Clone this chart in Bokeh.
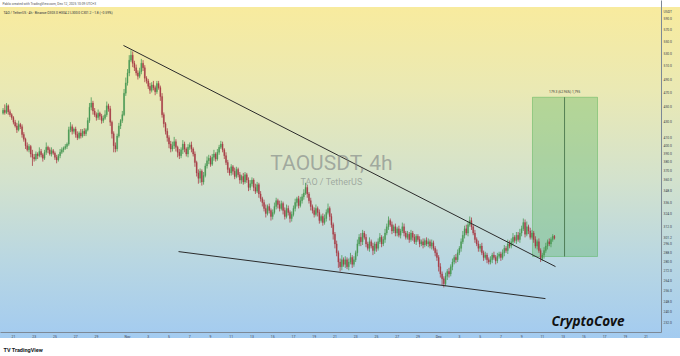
import math
from bokeh.plotting import figure
from bokeh.models import (Range1d, FixedTicker, Label, PrintfTickFormatter,
                          ColumnDataSource, Title)
from bokeh.embed import file_html
from bokeh.resources import INLINE

# ---------------- data (TAO/USDT, 4h candles, Oct 20 -> Dec 12) ----------------
first_open = 442.0
closes = [
    446, 443, 452, 444, 440, 436,   # Oct 20
    430, 425, 420, 427, 424, 414,   # Oct 21
    408, 400, 395, 399, 390, 386,   # Oct 22
    384, 390, 388, 393, 389, 385,   # Oct 23
    392, 398, 395, 390, 394, 391,   # Oct 24
    386, 383, 388, 392, 395, 397,   # Oct 25
    399, 402, 420, 424, 418, 421,   # Oct 26
    414, 410, 416, 412, 418, 415,   # Oct 27
    420, 432, 450, 456, 445, 440,   # Oct 28
    436, 442, 438, 432, 435, 440,   # Oct 29
    452, 448, 430, 415, 400, 396,   # Oct 30
    412, 425, 432, 440, 470, 485,   # Oct 31
    500, 520, 528, 515, 508, 500,   # Nov 1
    495, 502, 515, 508, 492, 488,   # Nov 2
    480, 474, 482, 478, 472, 484,   # Nov 3
    478, 465, 440, 428, 418, 410,   # Nov 4
    402, 396, 400, 405, 398, 392,   # Nov 5
    388, 395, 402, 396, 390, 398,   # Nov 6
    401, 396, 390, 380, 368, 362,   # Nov 7
    370, 358, 365, 376, 382, 385,   # Nov 8
    378, 386, 390, 384, 392, 398,   # Nov 9
    402, 395, 388, 380, 372, 368,   # Nov 10
    375, 370, 364, 372, 366, 360,   # Nov 11
    364, 358, 366, 360, 352, 356,   # Nov 12
    360, 352, 348, 355, 345, 340,   # Nov 13
    336, 330, 325, 332, 328, 322,   # Nov 14
    326, 332, 338, 334, 330, 335,   # Nov 15
    328, 322, 330, 326, 320, 324,   # Nov 16
    330, 336, 340, 333, 338, 342,   # Nov 17
    346, 352, 345, 338, 332, 328,   # Nov 18
    324, 330, 326, 318, 322, 316,   # Nov 19
    320, 326, 330, 322, 314, 305,   # Nov 20
    296, 288, 280, 276, 282, 278,   # Nov 21
    282, 276, 280, 284, 278, 282,   # Nov 22
    288, 296, 302, 298, 306, 302,   # Nov 23
    296, 292, 298, 294, 290, 296,   # Nov 24
    292, 298, 302, 296, 300, 306,   # Nov 25
    312, 318, 314, 308, 312, 306,   # Nov 26
    310, 304, 308, 312, 306, 302,   # Nov 27
    305, 300, 306, 302, 298, 303,   # Nov 28
    300, 296, 298, 295, 299, 296,   # Nov 29
    298, 294, 297, 292, 288, 284,   # Nov 30
    276, 270, 266, 262, 268, 272,   # Dec 1
    270, 276, 280, 284, 282, 288,   # Dec 2
    292, 298, 304, 310, 306, 314,   # Dec 3
    318, 312, 306, 300, 296, 292,   # Dec 4
    294, 288, 284, 286, 282, 280,   # Dec 5
    282, 286, 284, 281, 285, 287,   # Dec 6
    284, 288, 292, 290, 296, 294,   # Dec 7
    298, 302, 299, 304, 300, 306,   # Dec 8
    310, 316, 305, 312, 308, 302,   # Dec 9
    306, 300, 294, 298, 290, 283,   # Dec 10
    286, 290, 294, 298, 296, 300,   # Dec 11
    303.0, 301.2,                   # Dec 12
]
wick_up = [
    3, 8, 4, 2, 3, 2,  2, 3, 4, 5, 2, 3,  3, 2, 4, 3, 2, 5,  4, 3, 2, 5, 3, 2,
    3, 6, 2, 3, 4, 2,  2, 3, 2, 4, 3, 2,  3, 2, 4, 6, 3, 2,  3, 4, 2, 5, 3, 4,
    2, 4, 6, 8, 3, 4,  3, 5, 2, 3, 4, 6,  6, 3, 4, 2, 3, 4,  3, 4, 2, 5, 6, 8,
    6, 8, 8, 6, 4, 5,  4, 6, 7, 5, 4, 3,  3, 5, 4, 6, 3, 4,  4, 3, 5, 3, 2, 4,
    3, 4, 5, 6, 3, 2,  4, 3, 5, 3, 2, 4,  3, 4, 2, 3, 2, 4,  3, 2, 4, 3, 5, 4,
    3, 4, 5, 2, 4, 3,  4, 3, 2, 4, 3, 2,  3, 2, 4, 3, 2, 3,  2, 4, 3, 2, 3, 4,
    3, 2, 4, 3, 2, 3,  2, 3, 4, 2, 3, 2,  3, 4, 3, 2, 4, 3,  2, 3, 4, 3, 2, 3,
    3, 4, 2, 3, 4, 3,  4, 5, 3, 2, 3, 2,  3, 4, 2, 3, 2, 3,  4, 3, 5, 2, 3, 2,
    2, 3, 2, 3, 4, 2,  3, 2, 3, 4, 2, 3,  2, 4, 3, 4, 3, 2,  3, 2, 4, 2, 3, 2,
    2, 3, 4, 2, 3, 4,  3, 4, 2, 3, 2, 3,  2, 3, 2, 4, 3, 2,  3, 2, 3, 2, 3, 2,
    2, 3, 2, 3, 2, 3,  3, 2, 3, 2, 2, 3,  2, 3, 2, 2, 3, 2,  3, 2, 3, 2, 3, 3,
    2, 3, 4, 3, 4, 3,  4, 3, 2, 3, 2, 3,  2, 3, 2, 3, 2, 2,  3, 2, 3, 2, 3, 2,
    2, 3, 3, 2, 4, 3,  3, 4, 2, 3, 3, 4,  3, 4, 3, 5, 2, 3,  3, 2, 3, 2, 3, 2,
    2, 3, 3, 2, 3, 2,  2, 1.2,
]
wick_dn = [
    2, 3, 2, 4, 3, 3,  3, 2, 4, 2, 3, 4,  3, 4, 2, 3, 4, 10, 3, 2, 4, 2, 3, 4,
    2, 3, 4, 2, 3, 2,  3, 4, 2, 3, 2, 3,  2, 3, 2, 3, 4, 3,  4, 3, 2, 3, 2, 3,
    3, 2, 3, 4, 5, 3,  4, 3, 5, 4, 3, 2,  3, 4, 5, 6, 8, 4,  3, 2, 4, 3, 2, 4,
    4, 5, 3, 6, 5, 4,  5, 3, 4, 5, 6, 4,  4, 5, 3, 4, 5, 3,  3, 6, 4, 5, 4, 5,
    5, 4, 3, 4, 5, 6,  4, 3, 5, 4, 3, 4,  3, 4, 3, 5, 4, 6,  5, 4, 3, 2, 3, 4,
    3, 2, 4, 3, 2, 3,  2, 3, 4, 3, 4, 3,  3, 4, 3, 2, 3, 4,  4, 3, 2, 3, 4, 3,
    3, 4, 3, 2, 4, 3,  4, 3, 4, 2, 3, 4,  3, 2, 3, 4, 3, 2,  4, 3, 2, 3, 4, 3,
    2, 3, 4, 3, 2, 3,  3, 2, 4, 3, 4, 3,  3, 2, 4, 3, 2, 3,  2, 3, 2, 4, 3, 5,
    4, 3, 5, 4, 3, 2,  3, 2, 3, 2, 3, 2,  2, 3, 2, 4, 3, 2,  3, 2, 3, 2, 4, 3,
    3, 2, 2, 3, 2, 3,  2, 3, 2, 3, 2, 3,  3, 2, 3, 2, 3, 2,  2, 3, 2, 3, 2, 3,
    2, 3, 2, 3, 2, 2,  3, 2, 3, 2, 3, 3,  4, 3, 5, 3, 2, 3,  3, 2, 3, 2, 3, 2,
    2, 3, 2, 3, 2, 3,  2, 3, 2, 3, 2, 3,  3, 2, 3, 2, 3, 2,  2, 3, 2, 3, 2, 2,
    3, 2, 3, 2, 3, 2,  2, 3, 2, 3, 2, 3,  3, 2, 3, 2, 3, 2,  2, 3, 2, 3, 2, 3,
    2, 3, 2, 3, 2, 3,  2, 1.2,
]
first_candle_day = -12.0          # Oct 20 00:00, in days relative to Nov 1
candle_len_days = 4 / 24

x_tick_days = [-11, -9, -7, -5, -3, 0, 2, 4, 6, 8, 10, 12, 14, 16, 18, 20, 22, 24, 26, 28,
               30, 32, 34, 36, 38, 40, 42, 44, 46, 48, 50]
x_tick_labels = ["21", "23", "25", "27", "29", "Nov", "3", "5", "7", "9", "11", "13", "15",
                 "17", "19", "21", "23", "25", "27", "29", "Dec", "3", "5", "7", "9", "11",
                 "13", "15", "17", "19", "21"]
y_ticks = [590, 570, 550, 530, 510, 490, 470, 450, 430, 410, 400, 390, 380, 370, 360,
           348, 336, 324, 312, 296, 288, 280, 272, 264, 256, 248, 240, 232]
y_unit_label = "USDT"
y_unit_tick = 603.0
last_price = 301.2

# drawings
upper_trend_days = [-0.39, 41.27]
upper_trend_prices = [544.0, 276.1]
lower_trend_days = [4.92, 40.30]
lower_trend_prices = [289.1, 250.3]
range_days = [39.05, 45.32]
range_mid_day = 42.14
range_low, range_high = 284.8, 464.1
range_text = "179.3 (62.96%) 1,795"

# ---------------- layout helpers ----------------
W, H = 680, 356
FRAME_R, FRAME_T, FRAME_B = 661, 0, 332
PX_PER_LN = 326.1                      # vertical pixels per unit of ln(price)
X0, X1 = -12.247, 51.49
Y1 = 624.4                             # price at the very top pixel row
Y0 = Y1 * math.exp(-(FRAME_B - FRAME_T) / PX_PER_LN)


def px_x(x):
    return X0 + x * (X1 - X0) / FRAME_R


def px_y(y):
    return Y1 * math.exp(-(y - FRAME_T) / PX_PER_LN)


# ---------------- build candles ----------------
opens = [first_open] + closes[:-1]
n = len(closes)
xs = [first_candle_day + i * candle_len_days for i in range(n)]
highs = [max(o, c) + u for o, c, u in zip(opens, closes, wick_up)]
lows = [min(o, c) - d for o, c, d in zip(opens, closes, wick_dn)]
GREEN, RED = "#4a9a55", "#a83e48"
cols = [GREEN if c >= o else RED for o, c in zip(opens, closes)]
src = ColumnDataSource(dict(x=xs, o=opens, c=closes, h=highs, l=lows,
                            top=[max(o, c) for o, c in zip(opens, closes)],
                            bot=[min(o, c) for o, c in zip(opens, closes)],
                            col=cols))

p = figure(width=W, height=H, x_range=Range1d(X0, X1), y_range=Range1d(Y0, Y1),
           y_axis_type="log", y_axis_location="right", output_backend="svg",
           toolbar_location=None, min_border_left=0, min_border_right=W - FRAME_R,
           min_border_top=FRAME_T, min_border_bottom=H - FRAME_B)
p.background_fill_alpha = 0
p.border_fill_alpha = 0
p.outline_line_color = None
p.xgrid.visible = False
p.ygrid.visible = False
p.styles = {"background-image": "linear-gradient(to bottom, #ffffff 0px, #ffffff 7px, "
            "#f8eb9e 7px, #eae9b4 90px, #d3e2cd 180px, #b9d7e2 260px, #a3cbf0 338px, "
            "#ffffff 338px, #ffffff 356px)"}

# footer logo (below the time axis)
p.add_layout(Title(text="TV  TradingView", align="left", offset=3, standoff=7,
                   text_font_size="5.5px", text_font="Roboto", text_font_style="bold",
                   text_color="#131722"), "below")

# axes
AX_COL = "#7d8996"
p.xaxis.ticker = FixedTicker(ticks=x_tick_days, minor_ticks=[])
p.xaxis.major_label_overrides = {d: l for d, l in zip(x_tick_days, x_tick_labels)}
p.yaxis.ticker = FixedTicker(ticks=y_ticks + [y_unit_tick, last_price], minor_ticks=[])
p.yaxis.formatter = PrintfTickFormatter(format="%.1f")
p.yaxis.major_label_overrides = {y_unit_tick: y_unit_label, last_price: "301.2"}
for ax in (p.xaxis[0], p.yaxis[0]):
    ax.axis_line_color = AX_COL
    ax.major_tick_line_color = None
    ax.minor_tick_line_color = None
    ax.major_tick_out = 0
    ax.major_tick_in = 0
    ax.minor_tick_out = 0
    ax.minor_tick_in = 0
    ax.major_label_text_font_size = "3.4px"
    ax.major_label_text_color = "#3c4450"
    ax.major_label_text_font = "Roboto"
    ax.major_label_standoff = 2

# header line in the white strip at the top
p.add_layout(Label(x=px_x(2), y=px_y(3.5), text="Pablo created with TradingView.com, Dec 12, 2025 10:09 UTC+3",
                   text_baseline="middle", text_font_size="3.3px", text_font="Roboto",
                   text_color="#555555"))

# green price-range box
p.quad(left=[range_days[0]], right=[range_days[1]], bottom=[range_low], top=[range_high],
       fill_color="#4caf50", fill_alpha=0.32, line_color="#4caf50", line_alpha=0.55,
       line_width=0.8)
p.segment(x0=[range_mid_day], y0=[range_low], x1=[range_mid_day], y1=[range_high],
          line_color="#3d6b43", line_width=0.8)
p.add_layout(Label(x=range_mid_day, y=px_y(91), text=range_text, text_align="center",
                   text_baseline="middle", text_font_size="3.3px", text_color="#333333",
                   text_font="Roboto"))

# candles
p.segment(x0="x", y0="l", x1="x", y1="h", color="col", line_width=0.8, source=src)
p.vbar(x="x", width=candle_len_days * 0.62, top="top", bottom="bot",
       fill_color="col", line_color="col", line_width=0.3, source=src)

# trend lines
p.line(upper_trend_days, upper_trend_prices, line_color="#2b2b2b", line_width=1)
p.line(lower_trend_days, lower_trend_prices, line_color="#2b2b2b", line_width=1)

# watermark
p.add_layout(Label(x=px_x(331), y=px_y(162), text="TAOUSDT, 4h", text_align="center",
                   text_baseline="middle", text_font_size="21px", text_font="Roboto",
                   text_color="#7c8282", text_alpha=0.6))
p.add_layout(Label(x=px_x(331), y=px_y(181), text="TAO / TetherUS", text_align="center",
                   text_baseline="middle", text_font_size="9px", text_font="Roboto",
                   text_color="#7c8282", text_alpha=0.6))

# signature
p.add_layout(Label(x=px_x(551), y=px_y(320), text="CryptoCove", text_align="left",
                   text_baseline="middle", text_font_size="13.5px", text_font="Open Sans",
                   text_font_style="bold italic", text_color="#111111"))

# legend row inside the pane
p.add_layout(Label(x=px_x(3), y=px_y(12), text="TAO / TetherUS · 4h · Binance   O303.0  H304.2  L300.0  C301.2  \u22121.8 (\u22120.59%)",
                   text_baseline="middle", text_font_size="3.3px", text_font="Roboto",
                   text_color="#2a2e39"))

open("out.html", "w").write(file_html(p, INLINE))
